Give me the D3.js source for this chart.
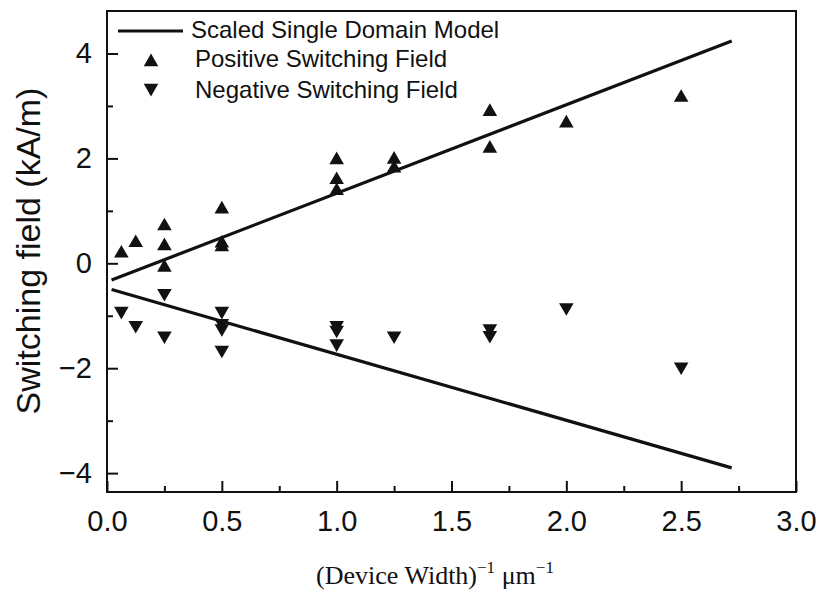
<!DOCTYPE html>
<html><head><meta charset="utf-8">
<script src="https://cdn.jsdelivr.net/npm/d3@7"></script>
<style>body{margin:0;background:#fff}svg{display:block}</style>
</head><body><svg id="c" width="823" height="595"></svg>
<script>
const xTicks = [0, 0.5, 1, 1.5, 2, 2.5, 3];
const xMinorTicks = [0.25, 0.75, 1.25, 1.75, 2.25, 2.75];
const yTicks = [-4, -2, 0, 2, 4];
const yMinorTicks = [-3, -1, 1, 3];
const posX = [0.0625, 0.125, 0.25, 0.25, 0.25, 0.5, 0.5, 0.5, 1.0, 1.0, 1.0, 1.25, 1.25, 1.667, 1.667, 2.0, 2.5];
const posY = [0.19, 0.39, 0.71, 0.33, -0.08, 1.03, 0.38, 0.31, 1.97, 1.59, 1.38, 1.98, 1.81, 2.89, 2.19, 2.67, 3.16];
const negX = [0.0625, 0.125, 0.25, 0.25, 0.5, 0.5, 0.5, 0.5, 1.0, 1.0, 1.0, 1.25, 1.667, 1.667, 2.0, 2.5];
const negY = [-0.91, -1.18, -0.57, -1.38, -0.91, -1.14, -1.24, -1.65, -1.18, -1.27, -1.53, -1.38, -1.24, -1.37, -0.84, -1.97];
const modelX = [0.02, 2.72];
const modelUpper = [-0.32, 4.24];
const modelLower = [-0.50, -3.90];
const legendLabels = ["Scaled Single Domain Model", "Positive Switching Field", "Negative Switching Field"];
const yLabel = "Switching field (kA/m)";

const svg = d3.select("#c");
const L = 107, R = 796, T = 11, B = 492;
const x = d3.scaleLinear().domain([0, 3]).range([L, R]);
const y = d3.scaleLinear().domain([-4.36, 4.81]).range([B, T]);
const sans = "'Liberation Sans', Arial, sans-serif";

// frame
svg.append("rect").attr("x", L).attr("y", T).attr("width", R - L).attr("height", B - T)
  .attr("fill", "none").attr("stroke", "#111").attr("stroke-width", 2);

// x axis
const xAxis = d3.axisBottom(x).tickValues(xTicks).tickSize(-11).tickPadding(18)
  .tickFormat(d3.format(".1f"));
const gx = svg.append("g").attr("transform", `translate(0,${B})`).call(xAxis);
const xMinor = d3.axisBottom(x).tickValues(xMinorTicks).tickSize(-6).tickFormat("");
const gxm = svg.append("g").attr("transform", `translate(0,${B})`).call(xMinor);

// y axis
const yAxis = d3.axisLeft(y).tickValues(yTicks).tickSize(-11).tickPadding(15)
  .tickFormat(d3.format("d"));
const gy = svg.append("g").attr("transform", `translate(${L},0)`).call(yAxis);
const yMinor = d3.axisLeft(y).tickValues(yMinorTicks).tickSize(-6).tickFormat("");
const gym = svg.append("g").attr("transform", `translate(${L},0)`).call(yMinor);

[gx, gxm, gy, gym].forEach(g => {
  g.select(".domain").remove();
  g.selectAll(".tick line").attr("stroke", "#111").attr("stroke-width", 2);
  g.selectAll(".tick text").attr("fill", "#111").style("font-family", sans).style("font-size", "29px");
});

// model lines
const line = d3.line().x(d => x(d[0])).y(d => y(d[1]));
svg.append("path").datum(modelX.map((v, i) => [v, modelUpper[i]]))
  .attr("d", line).attr("fill", "none").attr("stroke", "#111").attr("stroke-width", 3.2);
svg.append("path").datum(modelX.map((v, i) => [v, modelLower[i]]))
  .attr("d", line).attr("fill", "none").attr("stroke", "#111").attr("stroke-width", 3.2);

// markers
const tri = d3.symbol().type(d3.symbolTriangle).size(92);
svg.append("g").selectAll("path").data(posX.map((v, i) => [v, posY[i]])).join("path")
  .attr("d", tri).attr("transform", d => `translate(${x(d[0])},${y(d[1])})`).attr("fill", "#111");
svg.append("g").selectAll("path").data(negX.map((v, i) => [v, negY[i]])).join("path")
  .attr("d", tri).attr("transform", d => `translate(${x(d[0])},${y(d[1])}) rotate(180)`).attr("fill", "#111");

// legend
const lg = svg.append("g");
lg.append("line").attr("x1", 118).attr("x2", 183).attr("y1", 31).attr("y2", 31)
  .attr("stroke", "#111").attr("stroke-width", 3);
lg.append("path").attr("d", tri).attr("transform", "translate(151,62)").attr("fill", "#111");
lg.append("path").attr("d", tri).attr("transform", "translate(151,88) rotate(180)").attr("fill", "#111");
const lx = [191, 195, 195], ly = [38, 67, 98];
legendLabels.forEach((t, i) => {
  lg.append("text").attr("x", lx[i]).attr("y", ly[i]).text(t)
    .style("font-family", sans).style("font-size", "24px").attr("fill", "#111");
});

// axis titles
svg.append("text").attr("transform", "translate(40,251) rotate(-90)").attr("text-anchor", "middle")
  .style("font-family", sans).style("font-size", "34px").attr("fill", "#111").text(yLabel);

const xl = svg.append("text").attr("x", 435).attr("y", 584).attr("text-anchor", "middle")
  .style("font-family", "'Liberation Serif', 'Times New Roman', serif").style("font-size", "26px").attr("fill", "#111");
xl.append("tspan").text("(Device Width)");
xl.append("tspan").attr("dy", -11).style("font-size", "17px").text("−1");
xl.append("tspan").attr("dy", 11).text(" μm");
xl.append("tspan").attr("dy", -11).style("font-size", "17px").text("−1");
</script>
</body></html>
